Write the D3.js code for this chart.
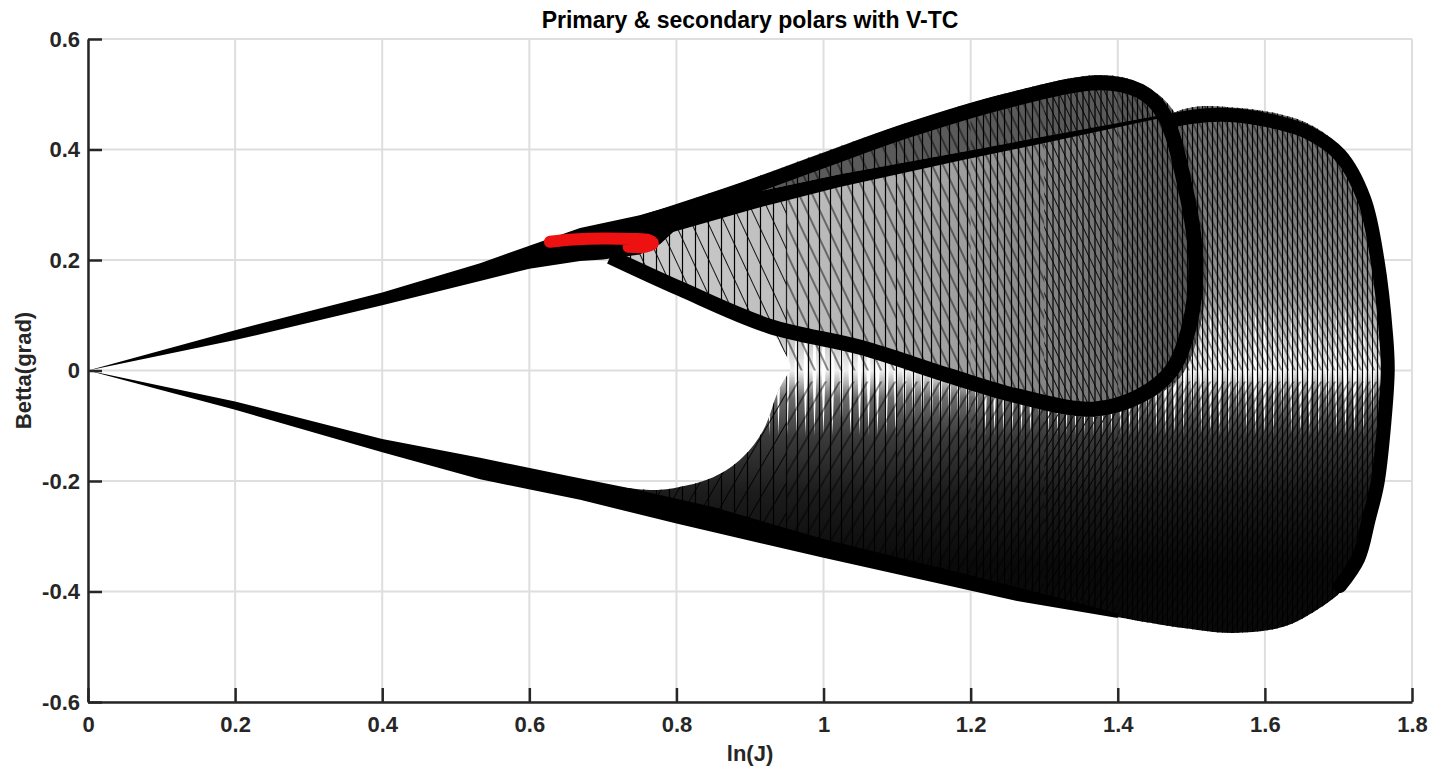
<!DOCTYPE html>
<html>
<head>
<meta charset="utf-8">
<script src="https://cdn.jsdelivr.net/npm/d3@7"></script>
<style>
  body { margin: 0; background: #fff; }
  svg { font-family: "Liberation Sans", Arial, Helvetica, sans-serif; }
</style>
</head>
<body>
<svg id="chart_svg"></svg>
<script>
// ---- data (ln(J), Betta) ----
const xTicks = [0, 0.2, 0.4, 0.6, 0.8, 1, 1.2, 1.4, 1.6, 1.8];
const yTicks = [-0.6, -0.4, -0.2, 0, 0.2, 0.4, 0.6];

// upper primary branch leaving the origin
const upperBandTop = [[0, 0], [0.2, 0.073], [0.4, 0.141], [0.533, 0.194], [0.6, 0.226], [0.669, 0.258], [0.75, 0.281], [0.8, 0.3]];
const upperBandBottom = [[0.8, 0.256], [0.778, 0.229], [0.75, 0.21], [0.7, 0.201], [0.669, 0.198], [0.6, 0.184], [0.533, 0.162],
  [0.4, 0.118], [0.2, 0.055], [0, 0]];

// lower primary branch leaving the origin, running along the bottom of the sheet
const lowerBandTop = [[0, 0], [0.2, -0.056], [0.4, -0.124], [0.533, -0.158], [0.65, -0.19], [0.74, -0.214], [0.85, -0.247],
  [1.0, -0.305], [1.186, -0.366], [1.3, -0.405], [1.4, -0.44]];
const lowerBandBottom = [[1.4, -0.448], [1.263, -0.417], [1.172, -0.39], [1.0, -0.339], [0.8, -0.277], [0.669, -0.234],
  [0.533, -0.197], [0.4, -0.148], [0.2, -0.071], [0, 0]];

// secondary lobe (left) outer boundary and outline
const lobeOuter = [[0.72, 0.255], [0.8, 0.300], [0.886, 0.339], [1.0, 0.395], [1.113, 0.448], [1.249, 0.502], [1.376, 0.535],
  [1.43, 0.52], [1.475, 0.471], [1.508, 0.321], [1.521, 0.2], [1.512, 0.079], [1.485, -0.012], [1.43, -0.059], [1.366, -0.084],
  [1.263, -0.059], [1.172, -0.023], [1.05, 0.032], [0.927, 0.09], [0.805, 0.16], [0.72, 0.205]];
const lobeEdge = [[0.75, 0.266], [0.8, 0.287], [0.886, 0.325], [1.0, 0.380], [1.113, 0.434], [1.249, 0.488], [1.376, 0.521],
  [1.43, 0.506], [1.462, 0.465], [1.492, 0.33], [1.506, 0.2], [1.498, 0.085], [1.473, 0.0], [1.43, -0.046], [1.366, -0.07],
  [1.263, -0.046], [1.172, -0.01], [1.05, 0.042], [0.927, 0.08], [0.805, 0.148], [0.71, 0.206]];

// straight chord inside the left lobe
const chordTop = [[0.72, 0.25], [0.904, 0.322], [1.022, 0.355], [1.186, 0.395], [1.294, 0.422], [1.462, 0.463]];
const chordBottom = [[1.462, 0.458], [1.294, 0.41], [1.186, 0.38], [1.022, 0.332], [0.904, 0.292], [0.72, 0.222]];

// big outer envelope (right lobe + lower sheet)
const envelope = [[0.927, 0.09], [0.94, 0.05], [0.955, 0.006], [0.945, -0.02], [0.937, -0.041], [0.918, -0.108], [0.89, -0.157],
  [0.85, -0.193], [0.778, -0.216], [0.72, -0.214], [0.8, -0.27], [1.0, -0.332], [1.172, -0.385], [1.263, -0.413], [1.399, -0.446],
  [1.489, -0.466], [1.557, -0.475], [1.625, -0.464], [1.671, -0.433], [1.706, -0.397], [1.734, -0.343], [1.747, -0.27],
  [1.761, -0.204], [1.774, 0], [1.766, 0.158], [1.761, 0.2], [1.739, 0.321], [1.702, 0.404], [1.657, 0.448], [1.566, 0.475],
  [1.475, 0.466], [1.3, 0.25], [1.05, 0.1]];
const rightEdge = [[1.47, 0.452], [1.52, 0.462], [1.566, 0.461], [1.62, 0.448], [1.657, 0.432], [1.702, 0.39], [1.735, 0.31],
  [1.753, 0.2], [1.765, 0.06], [1.767, 0.0], [1.762, -0.1], [1.753, -0.204], [1.741, -0.27], [1.727, -0.34], [1.702, -0.39]];

// V-TC curve (red)
const vtc = [[0.628, 0.233], [0.66, 0.237], [0.70, 0.239], [0.74, 0.238], [0.762, 0.236], [0.768, 0.23], [0.758, 0.224], [0.735, 0.224]];

// x-zones where the polar lines get denser
const hatchZones = [[0.6, 0.95], [0.95, 1.1], [1.1, 1.2], [1.2, 1.3], [1.3, 1.4], [1.4, 1.8]];

// ---- layout ----
const width = 1429, height = 768;
const x = d3.scaleLinear().domain([0, 1.8]).range([88, 1412]);
const y = d3.scaleLinear().domain([-0.6, 0.6]).range([702, 39]);

const svg = d3.select("#chart_svg").attr("width", width).attr("height", height);
const defs = svg.append("defs");

const line = d3.line().x(d => x(d[0])).y(d => y(d[1]));
const smooth = d3.line().x(d => x(d[0])).y(d => y(d[1])).curve(d3.curveCatmullRom);
const smoothClosed = d3.line().x(d => x(d[0])).y(d => y(d[1])).curve(d3.curveCatmullRomClosed);

// grid
svg.append("g").selectAll("line").data(xTicks).join("line")
  .attr("x1", d => x(d)).attr("x2", d => x(d)).attr("y1", y(-0.6)).attr("y2", y(0.6))
  .attr("stroke", "#dedede").attr("stroke-width", 2);
svg.append("g").selectAll("line").data(yTicks).join("line")
  .attr("x1", x(0)).attr("x2", x(1.8)).attr("y1", d => y(d)).attr("y2", d => y(d))
  .attr("stroke", "#dedede").attr("stroke-width", 2);

// gradients and hatch patterns
function vGradient(id, stops) {
  const g = defs.append("linearGradient").attr("id", id).attr("gradientUnits", "userSpaceOnUse")
    .attr("x1", 0).attr("x2", 0).attr("y1", y(0.6)).attr("y2", y(-0.6));
  stops.forEach(([v, c]) => g.append("stop")
    .attr("offset", (y(v) - y(0.6)) / (y(-0.6) - y(0.6))).attr("stop-color", c));
}
function hGradient(id, stops) {
  const g = defs.append("linearGradient").attr("id", id).attr("gradientUnits", "userSpaceOnUse")
    .attr("y1", 0).attr("y2", 0).attr("x1", x(0)).attr("x2", x(1.8));
  stops.forEach(([v, c]) => g.append("stop")
    .attr("offset", (x(v) - x(0)) / (x(1.8) - x(0))).attr("stop-color", c));
}
vGradient("gradEnv", [[0.48, "#6e6e6e"], [0.3, "#7c7c7c"], [0.15, "#9a9a9a"], [0.06, "#c4c4c4"], [0.0, "#eeeeee"],
  [-0.05, "#6a6a6a"], [-0.12, "#3a3a3a"], [-0.22, "#1c1c1c"], [-0.35, "#0a0a0a"]]);
hGradient("gradLobe", [[0.78, "#cacaca"], [1.0, "#bababa"], [1.2, "#9c9c9c"], [1.35, "#7a7a7a"], [1.5, "#5a5a5a"]]);

function hatch(id, spacing, angle, w, color) {
  const p = defs.append("pattern").attr("id", id).attr("patternUnits", "userSpaceOnUse")
    .attr("width", spacing).attr("height", 20).attr("patternTransform", `rotate(${angle})`);
  p.append("line").attr("x1", spacing / 2).attr("x2", spacing / 2).attr("y1", 0).attr("y2", 20)
    .attr("stroke", color).attr("stroke-width", w);
}
const vSpacing = [13, 11, 9, 7, 6, 5];
const dSpacing = [15, 12, 10, 8, 7, 6];
vSpacing.forEach((s, i) => hatch("vh" + i, s, 0, 1.2, "#000"));
dSpacing.forEach((s, i) => hatch("dd" + i, s, -25, 0.9, "#000"));
dSpacing.forEach((s, i) => hatch("du" + i, s, 30, 0.9, "#000"));

const spikes = defs.append("pattern").attr("id", "spikes").attr("patternUnits", "userSpaceOnUse")
  .attr("width", 9).attr("height", 130).attr("y", y(0) - 65);
spikes.append("polygon").attr("points", "4.5,0 6.5,65 4.5,130 2.5,65").attr("fill", "#fff");

defs.append("clipPath").attr("id", "clipEnv").append("path").attr("d", smoothClosed(envelope));
defs.append("clipPath").attr("id", "clipLobe").append("path").attr("d", smoothClosed(lobeOuter));

function zoneHatch(g, prefix, yTop, yBottom) {
  g.append("g").selectAll("rect").data(hatchZones).join("rect")
    .attr("x", d => x(d[0])).attr("width", d => x(d[1]) - x(d[0]))
    .attr("y", y(yTop)).attr("height", y(yBottom) - y(yTop))
    .attr("fill", (d, i) => `url(#${prefix}${i})`);
}

const plot = svg.append("g");

// envelope (primary polars sheet)
plot.append("path").attr("d", smoothClosed(envelope)).attr("fill", "url(#gradEnv)");
const env = plot.append("g").attr("clip-path", "url(#clipEnv)");
env.append("rect").attr("x", x(0.9)).attr("width", x(1.8) - x(0.9))
  .attr("y", y(0.118)).attr("height", y(-0.118) - y(0.118)).attr("fill", "url(#spikes)");
zoneHatch(env, "vh", 0.6, -0.6);
zoneHatch(env, "dd", 0.6, 0);
zoneHatch(env, "du", -0.02, -0.6);

// left (secondary) lobe
plot.append("path").attr("d", smoothClosed(lobeOuter)).attr("fill", "url(#gradLobe)");
// dense sliver between the lobe's top edge and the chord
plot.append("path").attr("d", smooth(lobeEdge.slice(1, 9)) + "L" + line(chordTop.slice().reverse()).slice(1) + "Z")
  .attr("fill", "#5a5a5a");
const lobe = plot.append("g").attr("clip-path", "url(#clipLobe)");
zoneHatch(lobe, "vh", 0.6, -0.6);
zoneHatch(lobe, "dd", 0.6, -0.6);

// black envelopes
plot.append("path").attr("d", line(upperBandTop.concat(upperBandBottom)) + "Z").attr("fill", "#000");
plot.append("path").attr("d", line(lowerBandTop.concat(lowerBandBottom)) + "Z").attr("fill", "#000");
plot.append("path").attr("d", smooth(lobeEdge)).attr("fill", "none").attr("stroke", "#000")
  .attr("stroke-width", 15).attr("stroke-linejoin", "round");
plot.append("path").attr("d", line(chordTop.concat(chordBottom)) + "Z").attr("fill", "#000");
plot.append("path").attr("d", smooth(rightEdge)).attr("fill", "none").attr("stroke", "#000")
  .attr("stroke-width", 14).attr("stroke-linecap", "round").attr("stroke-linejoin", "round");

// V-TC
plot.append("path").attr("d", smooth(vtc)).attr("fill", "none").attr("stroke", "#ee1111")
  .attr("stroke-width", 12).attr("stroke-linecap", "round").attr("stroke-linejoin", "round");

// axes
const xAxis = d3.axisBottom(x).tickValues(xTicks).tickFormat(d => String(d))
  .tickSizeInner(-14).tickSizeOuter(0).tickPadding(14);
const yAxis = d3.axisLeft(y).tickValues(yTicks).tickFormat(d => String(d))
  .tickSizeInner(-14).tickSizeOuter(0).tickPadding(8);

const gx = svg.append("g").attr("transform", `translate(0,${y(-0.6)})`).call(xAxis);
const gy = svg.append("g").attr("transform", `translate(${x(0)},0)`).call(yAxis);
[gx, gy].forEach(g => {
  g.select(".domain").attr("stroke", "#262626").attr("stroke-width", 2.5);
  g.selectAll(".tick line").attr("stroke", "#262626").attr("stroke-width", 2.5);
  g.selectAll(".tick text").attr("fill", "#262626").attr("font-size", 22).attr("font-weight", "bold")
    .attr("font-family", "Liberation Sans, Arial, sans-serif");
});

svg.append("text").attr("x", 750).attr("y", 28).attr("text-anchor", "middle")
  .attr("font-size", 23).attr("font-weight", "bold").attr("fill", "#000")
  .text("Primary & secondary polars with V-TC");
svg.append("text").attr("x", 750).attr("y", 761).attr("text-anchor", "middle")
  .attr("font-size", 22).attr("font-weight", "bold").attr("fill", "#262626").text("ln(J)");
svg.append("text").attr("transform", `translate(31,${y(0)}) rotate(-90)`).attr("text-anchor", "middle")
  .attr("font-size", 22).attr("font-weight", "bold").attr("fill", "#262626").text("Betta(grad)");
</script>
</body>
</html>
